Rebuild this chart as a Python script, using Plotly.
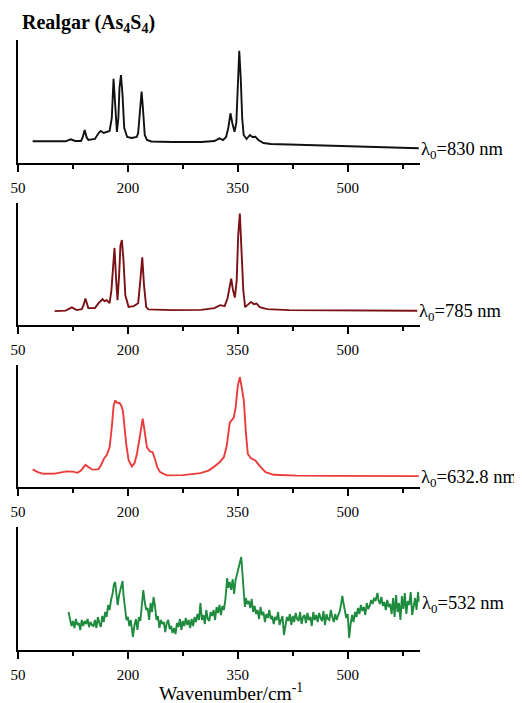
import plotly.graph_objects as go

# Espectros Raman do realgar (As4S4) com 4 lasers diferentes.
# Intensidades em unidades arbitrárias.

x830 = [70, 100, 115, 122, 128, 136, 138.5, 141, 143.5, 146, 155, 160, 163, 167, 171, 175, 178, 180.4, 182.5, 185,
        187, 188.5, 190.5, 192.5, 195, 199, 205, 212, 214, 216.5, 218.7, 220.5, 223, 226, 232, 260, 300, 318, 325,
        330, 334, 337, 340, 342.5, 345.5, 348, 350, 352, 354, 356, 358, 362, 366.5, 370, 374, 378, 385, 395, 420,
        460, 500, 540, 570, 597]
y830 = [21.7, 21.7, 21.7, 23.7, 22, 22, 26, 33, 26, 23, 24, 30, 32, 30, 31.3, 32, 45, 84.3, 60, 31,
        45, 75, 88, 70, 35, 26, 25, 26, 30, 50, 71.3, 55, 28, 23, 21.5, 21, 21, 22, 24.7,
        23, 26, 35, 49.7, 40, 31.3, 40, 80, 112.3, 85, 45, 28, 24, 28, 26, 26.3, 23, 20, 19, 18.5,
        17.8, 17, 16.2, 15.3, 14.7]

x785 = [100, 115, 123.5, 130, 137, 139.5, 142, 144.5, 146, 155, 160, 165.4, 168, 171, 175, 177.5, 179.5, 181.7, 184, 185.8,
        188, 189.8, 191.8, 194, 196.5, 200.9, 208, 214, 217, 219.6, 222, 225, 228, 260, 300, 318, 326, 332, 336,
        339, 341, 343.5, 346, 348.5, 350.5, 352.8, 355, 357.5, 360, 364, 368, 372, 375.6, 380, 390, 420, 480,
        540, 595]
y785 = [14, 14.5, 17.7, 15, 16, 20, 26.7, 20, 17, 17, 22, 26, 24, 25, 22, 35, 60, 77.7, 45, 25,
        50, 80, 85.7, 65, 30, 18.3, 19, 22, 45, 68.3, 40, 18, 15.7, 15, 15.2, 17, 20, 19, 27,
        40, 46.7, 35, 27.7, 45, 90, 112.3, 80, 35, 18, 21, 23.3, 21, 21.7, 18, 16, 15, 14.6,
        14.5, 14.3]

x632 = [70, 77, 84.6, 100, 116.6, 125, 131, 136, 142, 146, 150.8, 155, 159.9, 164, 167.6, 171, 175, 178, 180.5, 182.7,
        185, 188.6, 191, 193.2, 195.5, 197.7, 201, 205.5, 209, 212.3, 215, 218, 220.2, 222.5, 226, 230, 233.8, 237,
        240, 244, 253, 275, 299, 310, 317, 325, 331, 335, 339, 344.5, 347, 350, 352.8, 355.5, 358.3, 361, 363.7,
        368, 374, 380, 387.9, 399, 430, 480, 540, 597]
y632 = [17.7, 15, 13.3, 13.5, 15.7, 15.5, 14.3, 16.5, 22.3, 20, 17.7, 17.5, 18, 23, 29, 32, 40, 60, 82, 87.3,
        85, 84.7, 82, 76.7, 60, 43.3, 27, 20.7, 24, 33.3, 45, 62, 69, 58, 40, 36, 35, 28,
        20, 15, 11.7, 12, 14, 16.5, 20, 25, 30, 42, 65, 70, 80, 102, 110.7, 100, 86.7, 55, 33.3,
        29, 26.7, 21, 15, 12.3, 11.5, 11.2, 11, 11]

x532 = [119, 121, 123, 125, 127, 129, 131, 133, 135, 137, 139, 141, 143, 145, 147, 149, 151, 153, 155, 157,
        159, 161, 163, 165, 167, 169, 171, 173, 175, 177, 179, 181, 182.7, 184, 186, 188, 190, 192.7, 194, 196,
        198, 200, 202, 204, 206.8, 209, 211, 213, 215, 217, 219, 221, 223, 225, 227, 229, 231, 233, 235, 237,
        239, 241, 243, 245, 247, 249, 251, 253, 255, 257, 259, 261, 263, 265, 267, 269, 271, 273, 275, 277,
        279, 281, 283, 285, 287, 289, 291, 293, 295, 297, 299, 301, 303, 305, 307, 309, 311, 313, 315, 317,
        319, 321, 323, 325, 327, 329, 331, 333, 335.5, 337, 339, 341, 343, 345, 347, 349, 351, 353, 354.7, 356,
        358, 359.7, 361, 363, 365, 367, 369, 371, 373, 375, 377, 379, 381, 383, 385, 387, 389, 391, 393, 395,
        397, 399, 401, 403, 405, 407, 409, 411, 413, 415, 417, 419, 421, 423, 425, 427, 429, 431, 433, 435,
        437, 439, 441, 443, 445, 447, 449, 451, 453, 455, 457, 459, 461, 463, 465, 467, 469, 471, 473, 475,
        477, 479, 481, 483, 485, 487, 489, 491, 492.7, 494, 496, 498, 500, 502, 504, 506, 508, 510, 512, 514,
        516, 518, 520, 522, 524, 526, 528, 530, 532, 534, 536, 538, 540.6, 542, 544, 546, 548, 550, 552, 554,
        556, 558, 560, 562, 564, 566, 568, 570, 572, 574, 576, 578, 580, 582, 584, 586, 588, 590, 592, 594,
        596, 598]
y532 = [38, 30, 24, 29, 22, 31, 25, 27, 20, 30, 24, 29, 26, 31, 23, 28, 25, 24, 30, 22,
        33, 27, 23, 34, 28, 38, 33, 45, 40, 50, 56, 66, 68, 58, 45, 55, 62, 69, 55, 40,
        30, 33, 24, 30, 13, 25, 31, 20, 33, 29, 45, 60, 48, 40, 42, 30, 47, 38, 53, 44,
        30, 34, 22, 30, 26, 28, 18, 27, 30, 21, 24, 17, 22, 16, 27, 23, 31, 20, 29, 24,
        32, 25, 30, 22, 31, 24, 33, 28, 36, 30, 47, 30, 35, 26, 40, 31, 29, 38, 34, 40,
        30, 43, 37, 45, 35, 44, 40, 50, 72, 62, 68, 60, 71, 56, 70, 76, 79, 88, 93, 80,
        62, 43, 52, 46, 49, 42, 51, 38, 44, 36, 40, 31, 43, 35, 38, 28, 36, 32, 40, 31,
        34, 26, 33, 30, 38, 25, 30, 34, 15, 27, 33, 29, 36, 25, 34, 28, 37, 31, 29, 38,
        26, 33, 35, 27, 37, 30, 33, 24, 38, 30, 35, 28, 37, 32, 29, 39, 25, 36, 31, 30,
        40, 33, 28, 36, 30, 35, 38, 46, 54, 48, 41, 32, 36, 12, 26, 35, 28, 38, 33, 42,
        36, 45, 39, 43, 35, 47, 41, 44, 50, 46, 52, 49, 57, 50, 46, 53, 44, 48, 40, 50,
        43, 46, 36, 52, 33, 55, 38, 47, 30, 54, 41, 57, 36, 49, 45, 58, 35, 44, 52, 40,
        58, 48]

espectros = [
    (x830, y830, "#111111", "λ<sub>0</sub>=830 nm"),
    (x785, y785, "#7b1114", "λ<sub>0</sub>=785 nm"),
    (x632, y632, "#ec3b3b", "λ<sub>0</sub>=632.8 nm"),
    (x532, y532, "#1f8b3e", "λ<sub>0</sub>=532 nm"),
]

# posição vertical de cada painel (em pixels na imagem de 703 px)
# a página tem 8 px de margem no body, então tudo é deslocado de 8 px
larguraFig, alturaFig = 522, 703
desloc = 8
paineis = [(40, 163), (203, 325), (365, 487), (527, 650)]
fonte = "Liberation Serif, Times New Roman, serif"


def px_x(p):
    return (p - desloc) / larguraFig


def px_y(p):
    return 1 - (p - desloc) / alturaFig


fig = go.Figure()
layout = {}
for i, (xs, ys, cor, rotulo) in enumerate(espectros):
    n = "" if i == 0 else str(i + 1)
    topo, base = paineis[i]
    fig.add_trace(go.Scatter(x=xs, y=ys, mode="lines", line=dict(color=cor, width=1.9),
                             xaxis="x" + n, yaxis="y" + n, showlegend=False, hoverinfo="skip"))
    layout["xaxis" + n] = dict(
        domain=[px_x(18), px_x(419.5)], anchor="y" + n, range=[50, 598],
        showline=True, linecolor="black", linewidth=1.8, showgrid=False, zeroline=False,
        tick0=50, dtick=150, ticks="outside", ticklen=7, tickwidth=1.8, tickcolor="black",
        minor=dict(tick0=50, dtick=75, ticks="outside", ticklen=4, tickwidth=1.5, tickcolor="black"),
        tickfont=dict(family=fonte, size=15, color="black"), ticklabelstandoff=3, automargin=False,
    )
    layout["yaxis" + n] = dict(
        domain=[px_y(base), px_y(topo)], anchor="x" + n, range=[0, 123],
        showline=True, linecolor="black", linewidth=1.8, showgrid=False, zeroline=False,
        showticklabels=False, ticks="", automargin=False,
    )
    fig.add_annotation(x=xs[-1], y=ys[-1], xref="x" + n, yref="y" + n, text=rotulo,
                       showarrow=False, xanchor="left", yanchor="middle", xshift=0, yshift=-2,
                       font=dict(family=fonte, size=18.5, color="black"))

fig.add_annotation(x=px_x(20), y=px_y(24), xref="paper", yref="paper",
                   text="<b>Realgar (As<sub>4</sub>S<sub>4</sub>)</b>", showarrow=False,
                   xanchor="left", yanchor="middle", font=dict(family=fonte, size=20, color="black"))
fig.add_annotation(x=px_x(231), y=px_y(692), xref="paper", yref="paper",
                   text="Wavenumber/cm<sup>-1</sup>", showarrow=False,
                   xanchor="center", yanchor="middle", font=dict(family=fonte, size=19.5, color="black"))

fig.update_layout(width=larguraFig, height=alturaFig, margin=dict(l=0, r=0, t=0, b=0),
                  plot_bgcolor="white", paper_bgcolor="white", **layout)
fig.write_html("out.html")
